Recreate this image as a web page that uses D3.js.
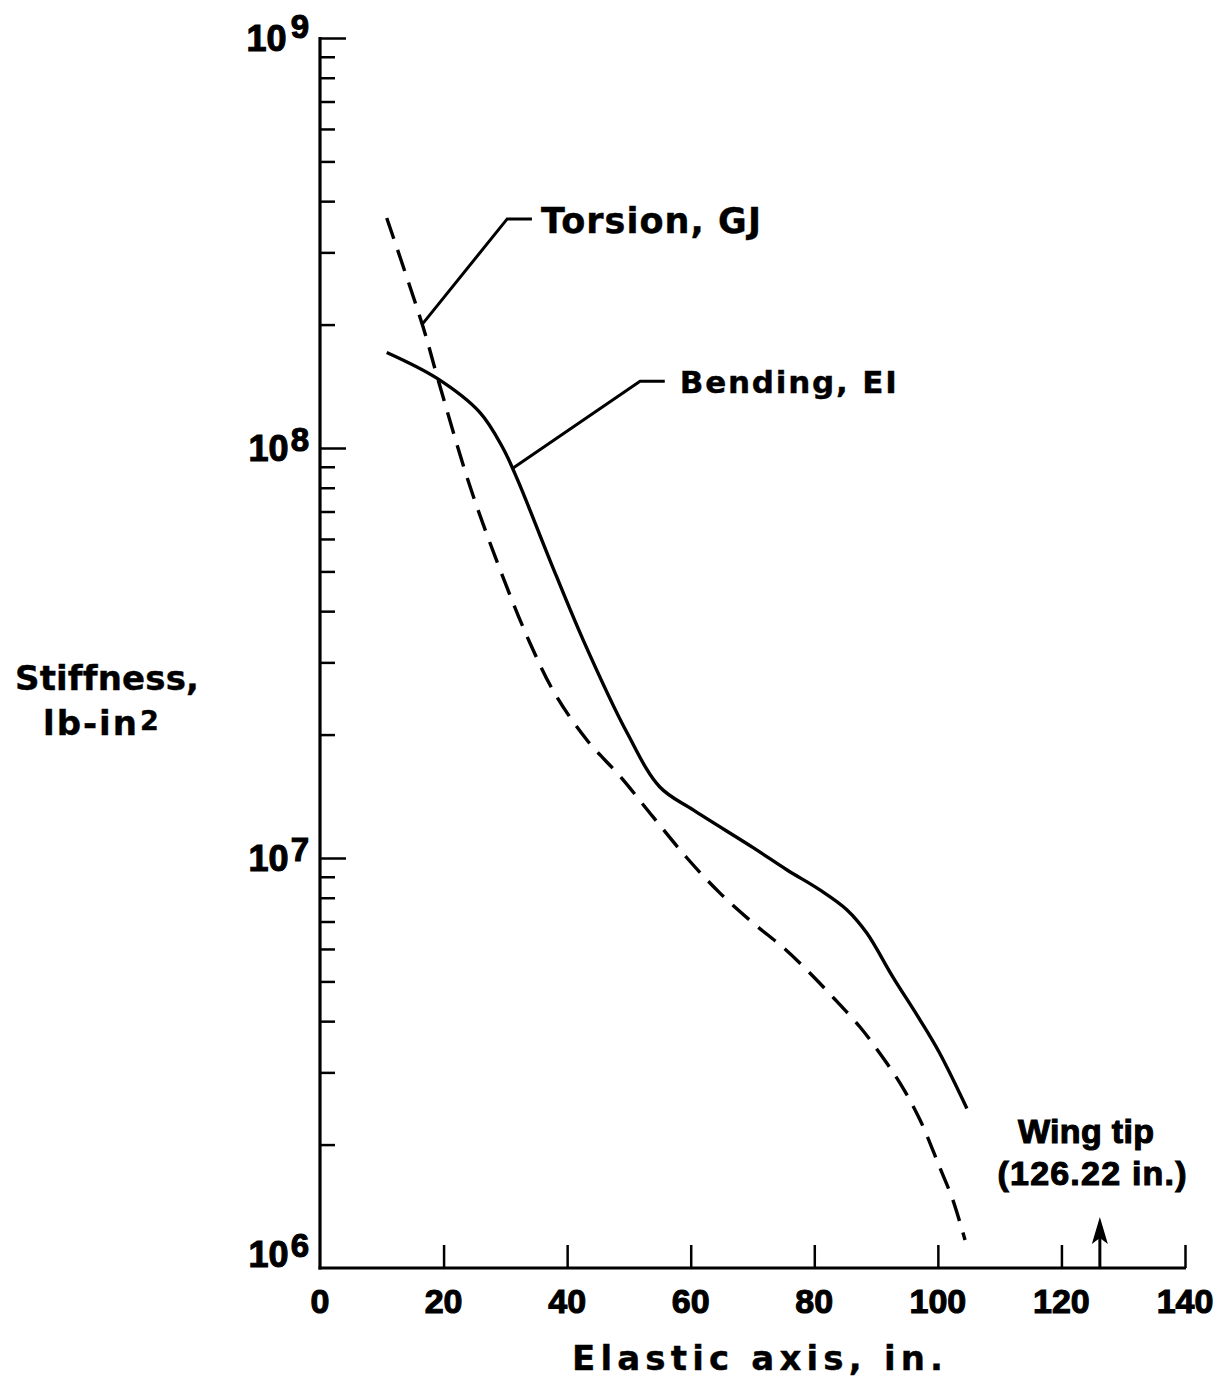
<!DOCTYPE html>
<html>
<head>
<meta charset="utf-8">
<script src="https://cdn.jsdelivr.net/npm/d3@7"></script>
<style>
  body { margin: 0; background: #fff; }
  text { font-family: "Liberation Sans", Arial, sans-serif; font-weight: bold; fill: #000; stroke: #000; stroke-width: 1.1px; font-variant-ligatures: none; font-feature-settings: "liga" 0, "clig" 0; }
  text.wide { font-family: "DejaVu Sans", sans-serif; stroke-width: 0.4px; letter-spacing: 1px; }
</style>
</head>
<body>
<div id="chart"></div>
<script>
// values
var xTicks = [0, 20, 40, 60, 80, 100, 120, 140];
var yDecades = [1e6, 1e7, 1e8, 1e9];
var yExponents = ["6", "7", "8", "9"];

var bendX = [10.8, 18.9, 25.9, 29.6, 32.0, 37.2, 42.6, 49.7, 55.0, 60.4, 70.1, 75.6, 80.9, 85.3, 88.5, 92.7, 97.1, 100.3, 104.7];
var bendEI = [1.71e8, 1.48e8, 1.22e8, 1.0e8, 8.35e7, 5.33e7, 3.40e7, 2.02e7, 1.49e7, 1.31e7, 1.06e7, 9.35e6, 8.36e6, 7.47e6, 6.56e6, 5.13e6, 4.03e6, 3.34e6, 2.45e6];

var torX = [10.8, 16.7, 19.1, 24.3, 29.6, 34.0, 38.0, 43.2, 48.6, 53.9, 59.4, 64.7, 70.1, 74.9, 78.8, 83.0, 87.4, 90.6, 93.9, 97.1, 100.3, 102.4, 104.4];
var torGJ = [3.64e8, 1.97e8, 1.47e8, 8.04e7, 4.85e7, 3.34e7, 2.52e7, 1.94e7, 1.58e7, 1.26e7, 1.0e7, 8.22e6, 6.94e6, 6.06e6, 5.33e6, 4.58e6, 3.87e6, 3.34e6, 2.82e6, 2.30e6, 1.76e6, 1.47e6, 1.17e6];

// leader lines for the two curve labels
var torLeadX = [16.5, 30.3, 34.3];
var torLeadY = [2.0e8, 3.62e8, 3.62e8];
var bendLeadX = [31.2, 51.8, 55.8];
var bendLeadY = [8.93e7, 1.455e8, 1.455e8];

var wingTip = 126.22;

var W = 1219, H = 1378;
var svg = d3.select("#chart").append("svg")
	.attr("width", W)
	.attr("height", H);

svg.append("rect").attr("width", W).attr("height", H).attr("fill", "#fff");

var x = d3.scaleLinear().domain([0, 140]).range([320, 1185]);
var y = d3.scaleLog().domain([1e6, 1e9]).range([1268, 38]);

// minor ticks 2..9 in each decade
var minor = [];
yDecades.slice(0, 3).forEach(function(d) {
	for (var m = 2; m <= 9; m++) minor.push(d * m);
});

var yMinor = svg.append("g")
	.attr("transform", "translate(" + x(0) + ",0)")
	.call(d3.axisRight(y).tickValues(minor).tickSize(15).tickSizeOuter(0).tickFormat(""));
yMinor.select(".domain").remove();
yMinor.selectAll("line").attr("stroke", "#000").attr("stroke-width", 2.5);

var yMajor = svg.append("g")
	.attr("transform", "translate(" + x(0) + ",0)")
	.call(d3.axisRight(y).tickValues(yDecades.slice(1)).tickSize(26).tickSizeOuter(0).tickFormat(""));
yMajor.select(".domain").remove();
yMajor.selectAll("line").attr("stroke", "#000").attr("stroke-width", 2.5);

var xAx = svg.append("g")
	.attr("transform", "translate(0," + y(1e6) + ")")
	.call(d3.axisTop(x).tickValues(xTicks.slice(1)).tickSize(23).tickSizeOuter(0).tickFormat(""));
xAx.select(".domain").remove();
xAx.selectAll("line").attr("stroke", "#000").attr("stroke-width", 2.5);

// axis lines
svg.append("line")
	.attr("x1", x(0)).attr("x2", x(0))
	.attr("y1", y(1e9) - 1).attr("y2", y(1e6) + 1.5)
	.attr("stroke", "#000").attr("stroke-width", 3.2);
svg.append("line")
	.attr("x1", x(0) - 1.5).attr("x2", x(140) + 1)
	.attr("y1", y(1e6)).attr("y2", y(1e6))
	.attr("stroke", "#000").attr("stroke-width", 3);

// x tick labels
svg.selectAll(".xlab")
	.data(xTicks)
	.enter().append("text")
	.attr("class", "xlab")
	.attr("x", function(d) { return x(d); })
	.attr("y", y(1e6) + 45)
	.attr("text-anchor", "middle")
	.style("font-size", "34px")
	.text(function(d) { return d; });

// y decade labels
yDecades.forEach(function(d, i) {
	var base = Math.min(y(d) + 13, y(1e6) - 1);
	var t = svg.append("text")
		.attr("x", 309)
		.attr("y", base)
		.attr("text-anchor", "end")
		.style("font-size", "36px");
	t.append("tspan").text("10");
	t.append("tspan")
		.attr("dy", i == 3 ? -13 : -10)
		.attr("dx", i == 3 ? 4 : 2)
		.style("font-size", "33px")
		.text(yExponents[i]);
});

// axis titles
svg.append("text")
	.attr("class", "wide")
	.attr("x", 15).attr("y", 690)
	.attr("textLength", 185).attr("lengthAdjust", "spacing")
	.style("font-size", "34px")
	.text("Stiffness,");
var lb = svg.append("text")
	.attr("class", "wide")
	.attr("x", 43).attr("y", 735)
	.style("font-size", "34px")
	.style("letter-spacing", "2px");
lb.append("tspan").text("lb-in");
lb.append("tspan").attr("dx", 1).attr("dy", -5).style("font-size", "27px").text("2");

svg.append("text")
	.attr("class", "wide")
	.attr("x", 572).attr("y", 1370)
	.attr("textLength", 372).attr("lengthAdjust", "spacing")
	.style("font-size", "34px")
	.text("Elastic axis, in.");

// curves
var line = d3.line()
	.x(function(d) { return x(d[0]); })
	.y(function(d) { return y(d[1]); })
	.curve(d3.curveCatmullRom.alpha(0.5));

svg.append("path")
	.datum(d3.zip(bendX, bendEI))
	.attr("d", line)
	.attr("fill", "none")
	.attr("stroke", "#000")
	.attr("stroke-width", 3.4);

svg.append("path")
	.datum(d3.zip(torX, torGJ))
	.attr("d", line)
	.attr("fill", "none")
	.attr("stroke", "#000")
	.attr("stroke-width", 3.4)
	.attr("stroke-dasharray", "22,12");

// leaders and labels
var lead = d3.line()
	.x(function(d) { return x(d[0]); })
	.y(function(d) { return y(d[1]); });

svg.append("path")
	.datum(d3.zip(torLeadX, torLeadY))
	.attr("d", lead)
	.attr("fill", "none").attr("stroke", "#000").attr("stroke-width", 3);
svg.append("path")
	.datum(d3.zip(bendLeadX, bendLeadY))
	.attr("d", lead)
	.attr("fill", "none").attr("stroke", "#000").attr("stroke-width", 3);

svg.append("text")
	.attr("class", "wide")
	.attr("x", x(torLeadX[2]) + 9)
	.attr("y", y(torLeadY[2]) + 14)
	.attr("textLength", 221).attr("lengthAdjust", "spacing")
	.style("font-size", "35px")
	.text("Torsion, GJ");

svg.append("text")
	.attr("class", "wide")
	.attr("x", x(bendLeadX[2]) + 15)
	.attr("y", y(bendLeadY[2]) + 12)
	.attr("textLength", 218).attr("lengthAdjust", "spacing")
	.style("font-size", "31px")
	.text("Bending, EI");

// wing tip marker
svg.append("line")
	.attr("x1", x(wingTip)).attr("x2", x(wingTip))
	.attr("y1", y(1e6)).attr("y2", y(1e6) - 40)
	.attr("stroke", "#000").attr("stroke-width", 3);
svg.append("path")
	.attr("d", "M" + x(wingTip) + "," + (y(1e6) - 51) +
		"L" + (x(wingTip) + 8) + "," + (y(1e6) - 24) +
		"L" + x(wingTip) + "," + (y(1e6) - 30) +
		"L" + (x(wingTip) - 8) + "," + (y(1e6) - 24) + "Z")
	.attr("fill", "#000");

svg.append("text")
	.attr("x", 1086).attr("y", 1143)
	.attr("text-anchor", "middle")
	.attr("textLength", 136).attr("lengthAdjust", "spacing")
	.style("font-size", "34px")
	.text("Wing tip");
svg.append("text")
	.attr("x", 1092).attr("y", 1185)
	.attr("text-anchor", "middle")
	.attr("textLength", 189).attr("lengthAdjust", "spacing")
	.style("font-size", "34px")
	.text("(126.22 in.)");
</script>
</body>
</html>
